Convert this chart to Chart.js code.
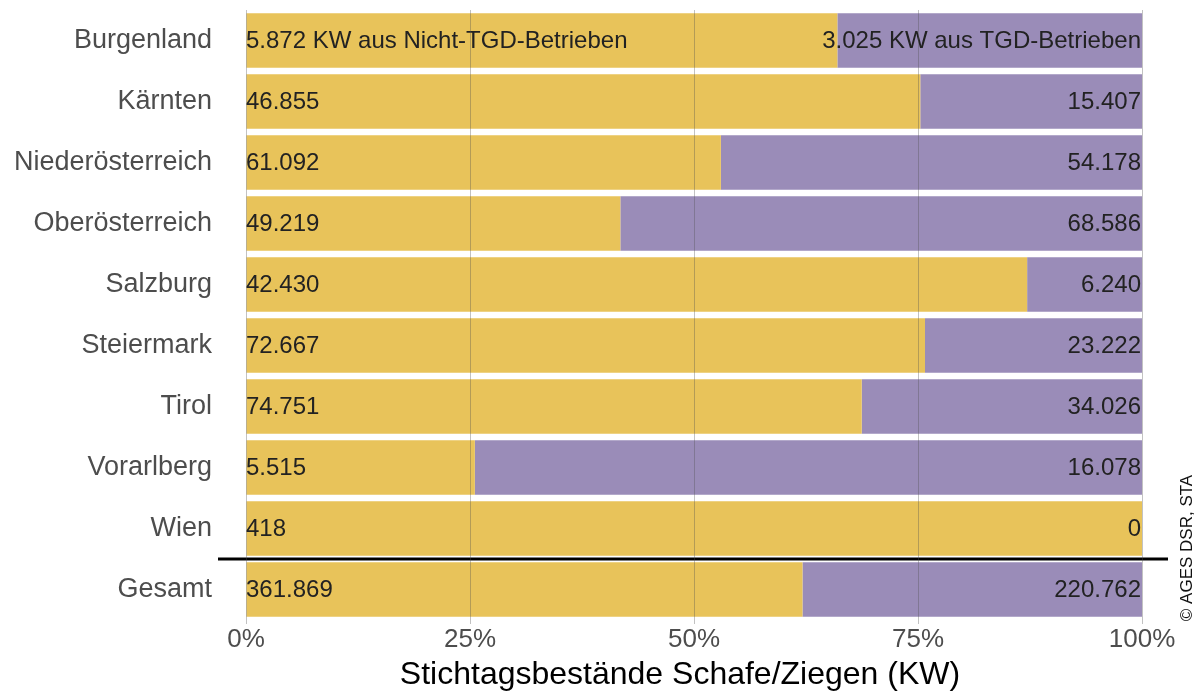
<!DOCTYPE html>
<html lang="de">
<head>
  <meta charset="UTF-8">
  <title>Stichtagsbestände Schafe/Ziegen</title>
  <script src="https://cdn.jsdelivr.net/npm/chart.js"></script>
  <style>
    html, body { margin: 0; padding: 0; background: #fff; }
    #wrap { width: 1200px; height: 693px; position: relative; }
  </style>
</head>
<body>
<div id="wrap"><canvas id="myChart" width="1200" height="693"></canvas></div>

<script>
const laender = ['Burgenland', 'Kärnten', 'Niederösterreich', 'Oberösterreich', 'Salzburg',
  'Steiermark', 'Tirol', 'Vorarlberg', 'Wien', 'Gesamt'];
const nichtTGD = [5872, 46855, 61092, 49219, 42430, 72667, 74751, 5515, 418, 361869];
const tgd = [3025, 15407, 54178, 68586, 6240, 23222, 34026, 16078, 0, 220762];
const xTicks = [0, 25, 50, 75, 100];

const FONT = '"Liberation Sans", Arial, sans-serif';
const fmt = n => n.toLocaleString('de-DE');

// Anteile in Prozent (100%-Balken)
const anteilNicht = nichtTGD.map((v, i) => v / (v + tgd[i]) * 100);
const anteilTGD = tgd.map((v, i) => v / (v + nichtTGD[i]) * 100);

// Beschriftungen in den Balken, Trennlinie vor "Gesamt", Achsentitel, Copyright
const extras = {
  id: 'extras',
  afterDatasetsDraw(chart) {
    const ctx = chart.ctx;
    const x = chart.scales.x, y = chart.scales.y;
    ctx.save();
    ctx.font = '24px ' + FONT;
    ctx.fillStyle = '#222';
    ctx.textBaseline = 'middle';
    laender.forEach((l, i) => {
      const yy = y.getPixelForValue(i) + 1;
      let links = fmt(nichtTGD[i]);
      let rechts = fmt(tgd[i]);
      if (i === 0) {
        links += ' KW aus Nicht-TGD-Betrieben';
        rechts += ' KW aus TGD-Betrieben';
      }
      ctx.textAlign = 'left';
      ctx.fillText(links, x.getPixelForValue(0), yy);
      ctx.textAlign = 'right';
      ctx.fillText(rechts, x.getPixelForValue(100) - 1, yy);
    });
    // Linie zwischen Wien und Gesamt
    const ly = (y.getPixelForValue(8) + y.getPixelForValue(9)) / 2;
    ctx.strokeStyle = '#000';
    ctx.lineWidth = 3;
    ctx.beginPath();
    ctx.moveTo(218, ly);
    ctx.lineTo(1168, ly);
    ctx.stroke();
    // Achsentitel
    ctx.font = '32px ' + FONT;
    ctx.fillStyle = '#000';
    ctx.textAlign = 'center';
    ctx.fillText('Stichtagsbestände Schafe/Ziegen (KW)', 680, 675);
    // Copyright
    ctx.translate(1187, 548);
    ctx.rotate(-Math.PI / 2);
    ctx.font = '17px ' + FONT;
    ctx.fillStyle = '#111';
    ctx.fillText('© AGES DSR, STA', 0, 0);
    ctx.restore();
  }
};

const ctx = document.getElementById('myChart').getContext('2d');
new Chart(ctx, {
  type: 'bar',
  data: {
    labels: laender,
    datasets: [{
      label: 'Nicht-TGD-Betriebe',
      data: anteilNicht,
      backgroundColor: '#E8C35A',
      barPercentage: 0.89,
      categoryPercentage: 1
    }, {
      label: 'TGD-Betriebe',
      data: anteilTGD,
      backgroundColor: '#9A8CB8',
      barPercentage: 0.89,
      categoryPercentage: 1
    }]
  },
  options: {
    indexAxis: 'y',
    responsive: false,
    animation: false,
    layout: { padding: { top: 10, right: 58, bottom: 0, left: 0 } },
    plugins: {
      legend: { display: false },
      tooltip: { enabled: false }
    },
    scales: {
      x: {
        stacked: true,
        min: 0,
        max: 100,
        afterBuildTicks: s => { s.ticks = xTicks.map(v => ({ value: v })); },
        ticks: {
          callback: v => v + '%',
          color: '#4d4d4d',
          font: { family: FONT, size: 26 },
          padding: 0,
          maxRotation: 0
        },
        grid: { color: 'rgba(80,80,80,0.35)', lineWidth: 1, z: 1, tickLength: 4, drawTicks: true },
        border: { display: false },
        afterFit: s => { s.height = 73; }
      },
      y: {
        stacked: true,
        ticks: {
          color: '#4d4d4d',
          font: { family: FONT, size: 27 },
          padding: 34
        },
        grid: { display: false, drawTicks: false },
        border: { display: false },
        afterFit: s => { s.width = 246; s.paddingTop = 0; s.paddingBottom = 0; }
      }
    }
  },
  plugins: [extras]
});
</script>
</body>
</html>
